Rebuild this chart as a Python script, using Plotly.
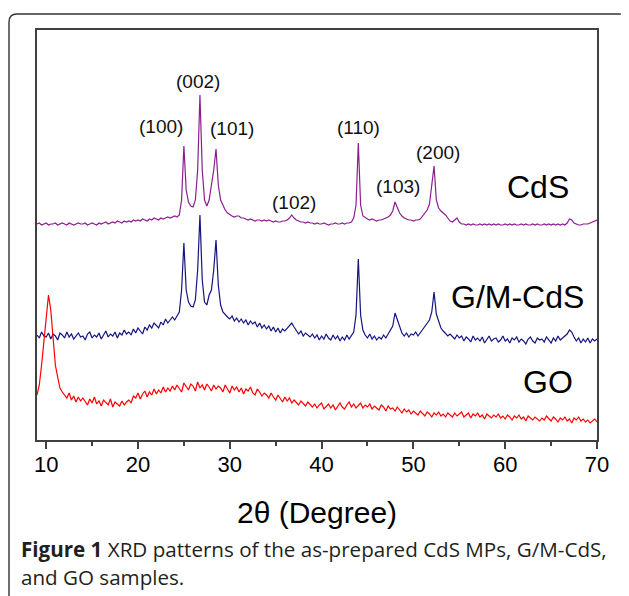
import plotly.graph_objects as go

# 2-theta scan positions (degrees), 0.25 deg step from 9 to 70
TWO_THETA = [9 + 0.25 * i for i in range(245)]

# Intensities (arbitrary units, already offset for stacking)
CDS = [
    216,217,215,216,217,215,216,216,217,215,216,217,216,215,217,216,215,216,217,216,
    216,217,215,216,217,216,215,217,216,217,218,216,217,218,217,219,218,217,219,218,
    219,218,220,219,220,219,221,220,219,221,220,222,221,220,222,221,222,223,222,223,
    224,223,225,240,294,250,238,234,233,240,270,345,270,240,234,240,255,270,291,255,
    240,234,230,227,225,224,223,224,224,222,222,221,220,221,220,219,220,220,219,220,
    219,220,219,218,219,218,218,219,219,220,222,225,222,220,219,218,218,217,218,217,
    217,216,217,216,216,217,216,215,216,216,217,216,216,217,216,217,217,218,222,235,
    297,235,224,222,221,220,221,220,219,220,220,221,222,223,225,229,238,233,227,224,
    222,221,220,220,219,220,220,221,224,227,230,236,255,274,240,232,229,227,225,222,
    219,218,220,222,218,216,216,215,216,215,216,215,215,216,215,216,215,216,215,216,
    215,216,215,215,216,215,216,215,216,215,215,216,215,216,215,215,216,215,216,215,
    215,216,215,216,215,216,215,216,215,216,215,217,221,220,217,216,215,215,216,216,
    216,217,218,219,220,
]

GM_CDS = [
    105,102,108,104,103,107,101,106,104,100,107,105,102,108,103,106,101,104,107,103,
    104,100,106,108,102,105,103,107,101,105,109,103,106,104,108,102,107,105,110,106,
    108,105,111,107,112,109,106,113,110,115,112,117,114,112,118,115,121,117,120,123,
    120,124,128,150,197,150,138,134,133,140,170,225,160,138,135,145,150,170,200,155,
    135,128,125,123,121,124,119,122,118,121,117,120,115,119,116,118,113,117,112,115,
    111,114,109,113,108,112,107,111,109,112,114,117,113,110,106,109,104,107,105,103,
    106,102,105,100,104,101,106,102,100,105,101,104,99,103,100,105,101,104,108,125,
    181,125,110,105,102,106,101,104,100,103,101,105,102,106,110,114,127,120,112,107,
    104,107,103,106,105,108,104,107,110,113,116,120,128,148,126,118,112,109,107,104,
    106,103,101,105,102,104,99,103,101,98,104,100,102,99,103,97,101,104,99,101,
    102,98,100,104,99,101,97,102,100,103,98,101,99,96,101,103,99,97,102,100,
    101,98,103,100,97,102,99,104,100,102,104,106,110,108,103,99,102,97,101,98,
    102,97,101,99,101,
]

GO_DATA = [
    45,55,75,100,125,145,130,100,75,63,52,48,45,42,47,40,44,38,43,39,
    42,38,35,41,37,43,36,39,34,40,37,35,41,33,38,36,34,39,35,38,
    40,37,44,42,47,41,46,49,43,48,45,51,46,50,47,53,48,52,49,54,
    50,55,52,48,57,53,50,56,54,49,58,52,55,50,56,53,49,55,51,54,
    52,48,55,51,47,54,50,53,48,52,46,51,49,53,47,45,51,48,44,47,
    45,42,47,43,40,45,41,38,43,39,42,37,40,38,35,39,36,34,38,35,
    33,36,32,35,37,31,34,36,32,35,30,34,37,33,31,35,38,33,36,32,
    34,37,32,35,33,36,31,34,32,30,35,33,29,34,31,32,29,33,30,27,
    31,28,30,26,29,27,25,29,27,24,28,26,23,27,25,28,24,26,23,27,
    25,23,27,24,26,28,23,25,27,22,26,24,27,23,25,21,26,24,22,25,
    23,26,22,24,21,25,23,20,24,22,25,21,23,19,24,22,20,23,21,19,
    22,20,24,21,19,23,21,18,22,20,23,19,21,17,22,20,23,19,21,18,
    20,17,19,21,18,
]

# Peak labels (Miller indices) and their label positions (2theta, intensity)
PEAK_LABELS = ["(002)", "(100)", "(101)", "(102)", "(110)", "(103)", "(200)"]
PEAK_X = [26.54, 22.56, 30.19, 36.94, 43.97, 48.32, 52.68]
PEAK_Y = [359, 314, 312, 238, 313, 254, 288]

SERIES_NAMES = ["CdS", "G/M-CdS", "GO"]
SERIES_LABEL_X = [63.52, 61.34, 64.61]
SERIES_LABEL_Y = [253, 143, 58]
SERIES_COLORS = ["#8B1E8E", "#141482", "#FF0000"]

X_TICKS = [10, 20, 30, 40, 50, 60, 70]

OFF = 8  # page body margin of the browser
W, H = 629 - OFF, 596 - OFF
ML, MT = 37 - OFF, 30 - OFF
PR, PB = 597 - OFF, 440 - OFF
MR, MB = W - PR, H - PB
PW, PH = PR - ML, PB - MT
ARIAL = "Liberation Sans"


def px(xp):
    return (xp - OFF - ML) / PW


def py(yp):
    return (PB - (yp - OFF)) / PH


fig = go.Figure()
for name, ys, col in zip(SERIES_NAMES, [CDS, GM_CDS, GO_DATA], SERIES_COLORS):
    fig.add_trace(go.Scatter(x=TWO_THETA, y=ys, mode="lines", name=name,
                             line=dict(color=col, width=1.2), showlegend=False))

ann = []
for t, x, y in zip(PEAK_LABELS, PEAK_X, PEAK_Y):
    ann.append(dict(x=x, y=y, xref="x", yref="y", text=t, showarrow=False,
                    font=dict(family=ARIAL, size=19, color="#111")))
for t, x, y in zip(SERIES_NAMES, SERIES_LABEL_X, SERIES_LABEL_Y):
    ann.append(dict(x=x, y=y, xref="x", yref="y", text=t, showarrow=False,
                    font=dict(family=ARIAL, size=32, color="#000")))

ann.append(dict(x=px(317), y=py(512), xref="paper", yref="paper", text="2θ (Degree)",
                showarrow=False, xanchor="center", yanchor="middle",
                font=dict(family=ARIAL, size=30, color="#000")))
ann.append(dict(x=px(19), y=py(549), xref="paper", yref="paper",
                text="<b>Figure 1</b> XRD patterns of the as-prepared CdS MPs, G/M-CdS,",
                showarrow=False, xanchor="left", yanchor="middle", align="left",
                font=dict(family="Open Sans", size=20.6, color="#231F20")))
ann.append(dict(x=px(19), y=py(577), xref="paper", yref="paper",
                text="and GO samples.",
                showarrow=False, xanchor="left", yanchor="middle", align="left",
                font=dict(family="Open Sans", size=20.6, color="#231F20")))

# rounded outer border of the figure panel
bl, br, bt, bb, r = 9, 627, 14, 600, 8
path = (f"M {px(bl)},{py(bb)} L {px(bl)},{py(bt + r)} "
        f"Q {px(bl)},{py(bt)} {px(bl + r)},{py(bt)} "
        f"L {px(br - r)},{py(bt)} Q {px(br)},{py(bt)} {px(br)},{py(bt + r)} "
        f"L {px(br)},{py(bb)}")

fig.update_layout(
    width=W, height=H,
    margin=dict(l=ML, r=MR, t=MT, b=MB),
    paper_bgcolor="white", plot_bgcolor="white",
    annotations=ann,
    shapes=[dict(type="path", path=path, xref="paper", yref="paper",
                 line=dict(color="#333333", width=1.4))],
    xaxis=dict(range=[9, 70], tickvals=X_TICKS, ticks="outside", ticklen=7, tickwidth=1.5,
               tickcolor="#404040", showline=True, mirror=True, linecolor="#404040",
               linewidth=1.5, showgrid=False, zeroline=False, ticklabelstandoff=-3,
               tickfont=dict(family=ARIAL, size=22, color="#000"),
               minor=dict(dtick=5, tick0=5, ticks="outside", ticklen=4, tickwidth=1.5,
                          tickcolor="#404040", showgrid=False)),
    yaxis=dict(range=[0, 410], showticklabels=False, ticks="", showline=True, mirror=True,
               linecolor="#404040", linewidth=1.5, showgrid=False, zeroline=False),
)

fig.write_html("out.html")
